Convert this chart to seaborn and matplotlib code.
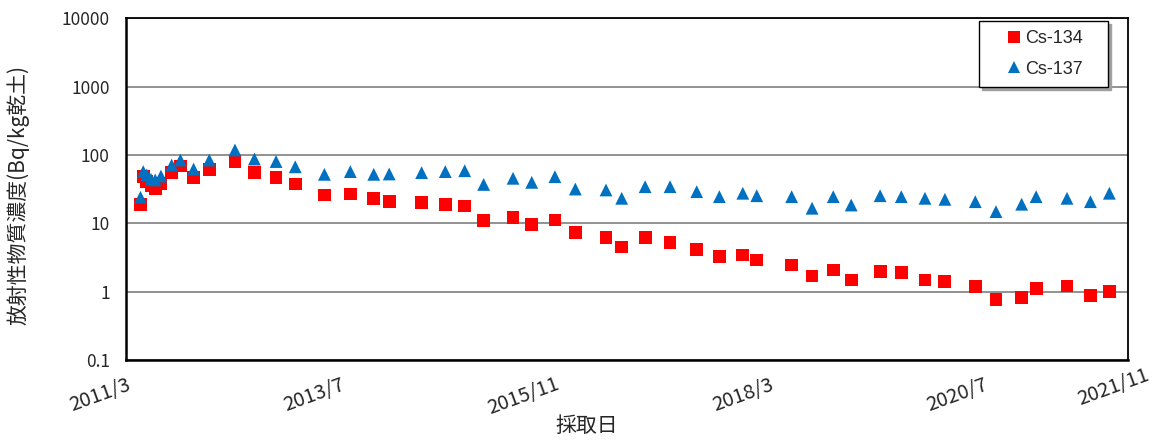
import matplotlib
matplotlib.use("Agg")
import matplotlib.pyplot as plt
import matplotlib.dates as mdates
import matplotlib.transforms as mtransforms
from matplotlib.ticker import FixedLocator, NullLocator
import pandas as pd
import seaborn as sns

# =====================================================
# Data
# =====================================================

sample_dates = [
    "2011-04-27", "2011-05-08", "2011-05-22", "2011-06-08", "2011-06-25",
    "2011-07-18", "2011-08-30", "2011-10-04", "2011-11-26", "2012-01-28",
    "2012-05-10", "2012-07-27", "2012-10-22", "2013-01-07", "2013-05-04",
    "2013-08-16", "2013-11-18", "2014-01-19", "2014-05-29", "2014-09-01",
    "2014-11-18", "2015-02-02", "2015-05-31", "2015-08-14", "2015-11-15",
    "2016-02-05", "2016-06-07", "2016-08-09", "2016-11-11", "2017-02-19",
    "2017-06-06", "2017-09-05", "2017-12-08", "2018-02-02", "2018-06-22",
    "2018-09-12", "2018-12-06", "2019-02-16", "2019-06-12", "2019-09-05",
    "2019-12-09", "2020-02-27", "2020-06-28", "2020-09-19", "2020-12-31",
    "2021-02-27", "2021-07-01", "2021-10-03", "2021-12-18",
]

cs134 = [
    19, 48, 40.5, 35, 32.5, 38.5, 55, 69, 47, 61.5,
    80, 56, 46.5, 37.6, 26, 26.8, 23.2, 20.7, 20, 19,
    17.9, 10.9, 12.1, 9.7, 11.2, 7.3, 6.2, 4.5, 6.2, 5.3,
    4.1, 3.25, 3.45, 2.9, 2.45, 1.7, 2.07, 1.48, 2.0, 1.9,
    1.48, 1.4, 1.18, 0.76, 0.83, 1.12, 1.21, 0.87, 1.02,
]

cs137 = [
    24, 57, 51, 44, 43, 49, 71, 84, 62, 84,
    118, 87, 80, 67, 52, 57, 52, 52.6, 55, 57,
    58.7, 37, 45.5, 39.7, 48, 31.7, 30.7, 23.2, 34.3, 34.3,
    29, 24.5, 27.5, 25.3, 24.5, 16.6, 24.5, 18.5, 25.3, 24.5,
    23.2, 22.4, 20.7, 14.8, 19, 24.5, 23.2, 20.7, 27.5,
]

x_tick_dates = ["2011-03-01", "2013-07-09", "2015-11-15",
                "2018-03-24", "2020-07-31", "2022-03-04"]
x_tick_labels = ["2011/3", "2013/7", "2015/11", "2018/3", "2020/7", "2021/11"]

y_tick_values = [0.1, 1, 10, 100, 1000, 10000]
y_tick_labels = ["0.1", "1", "10", "100", "1000", "10000"]

series_names = ["Cs-134", "Cs-137"]
series_colors = {"Cs-134": "#FF0000", "Cs-137": "#0070C0"}
series_markers = {"Cs-134": "s", "Cs-137": "^"}

df = pd.DataFrame({
    "date": pd.to_datetime(sample_dates * 2),
    "value": cs134 + cs137,
    "nuclide": ["Cs-134"] * len(cs134) + ["Cs-137"] * len(cs137),
})

# =====================================================
# Figure
# =====================================================

sns.set_style("white")
plt.rcParams["font.family"] = ["Noto Sans CJK JP", "DejaVu Sans"]

W, H = 1162, 443
fig = plt.figure(figsize=(W / 100, H / 100), dpi=100)
ax = fig.add_axes([126.3 / W, 1 - 360.1 / H, 1002 / W, 342 / H])

sns.scatterplot(
    data=df,
    x="date",
    y="value",
    hue="nuclide",
    style="nuclide",
    hue_order=series_names,
    style_order=series_names,
    palette=series_colors,
    markers=series_markers,
    s=85,
    linewidth=0,
    ax=ax,
)

# y axis (log)
ax.set_yscale("log")
ax.set_ylim(y_tick_values[0], y_tick_values[-1])
ax.yaxis.set_major_locator(FixedLocator(y_tick_values))
ax.yaxis.set_minor_locator(NullLocator())
ax.set_yticklabels(y_tick_labels)
ax.yaxis.grid(True, color="#7f7f7f", linewidth=1.2)
ax.tick_params(axis="y", length=0, pad=12, labelsize=12.5)

# x axis (dates)
tick_nums = mdates.date2num(pd.to_datetime(x_tick_dates))
ax.set_xlim(tick_nums[0], tick_nums[-1])
ax.xaxis.set_major_locator(FixedLocator(tick_nums))
ax.xaxis.set_minor_locator(NullLocator())
ax.set_xticklabels(x_tick_labels)
ax.tick_params(axis="x", direction="in", length=5, width=1,
               color="black", pad=10, labelsize=14.5)
for lbl in ax.get_xticklabels():
    lbl.set_rotation(20)
    lbl.set_rotation_mode("anchor")
    lbl.set_ha("right")
    lbl.set_va("top")
last = ax.get_xticklabels()[-1]
last.set_transform(last.get_transform() +
                   mtransforms.ScaledTranslation(0.17, 0.09, fig.dpi_scale_trans))

# spines
for side in ["left", "bottom"]:
    ax.spines[side].set_color("black")
    ax.spines[side].set_linewidth(1.8)
for side in ["top", "right"]:
    ax.spines[side].set_color("black")
    ax.spines[side].set_linewidth(1.3)

# labels
ax.set_xlabel("採取日", fontsize=15, va="top")
ax.xaxis.set_label_coords(0.46, -0.16)
ax.set_ylabel("放射性物質濃度(Bq/kg乾土)", fontsize=15)
ax.yaxis.set_label_coords(-0.097, 0.483)

# legend
leg = ax.legend(
    loc="upper left",
    bbox_to_anchor=(0.851, 0.808, 0.129, 0.183),
    mode="expand",
    borderaxespad=0,
    frameon=True,
    fancybox=False,
    shadow={"color": "#a0a0a0", "alpha": 1},
    edgecolor="black",
    prop={"family": "Liberation Sans", "size": 13},
    handlelength=2.9,
    handletextpad=-0.85,
    borderpad=0.5,
    labelspacing=0.75,
    markerscale=1.0,
)
leg.get_frame().set_linewidth(1.0)

fig.savefig("out.png", dpi=100)
plt.close()
